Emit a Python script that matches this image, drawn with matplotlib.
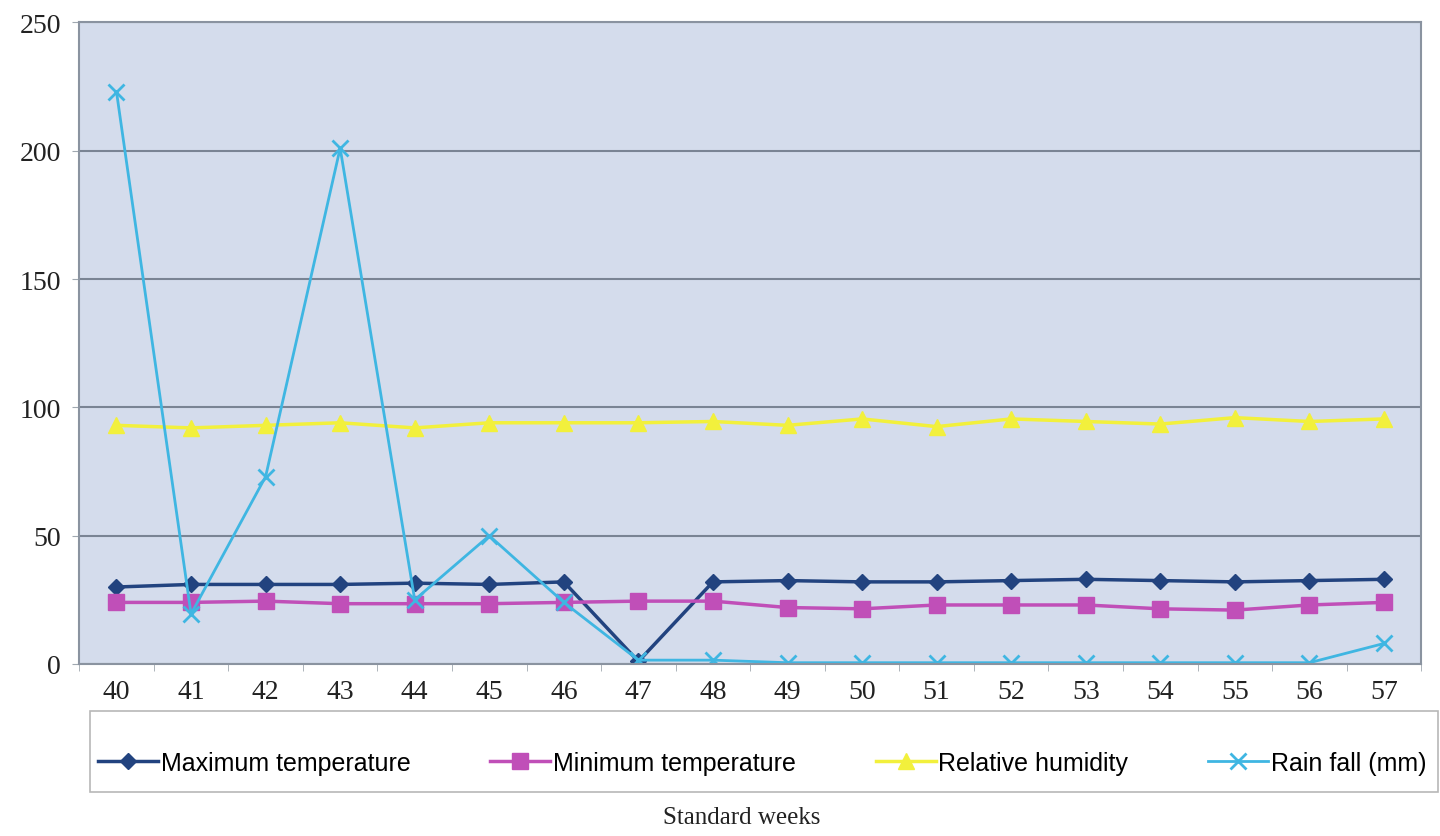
import matplotlib
matplotlib.use("Agg")
import matplotlib.pyplot as plt
from matplotlib.patches import Rectangle

weeks = ["40", "41", "42", "43", "44", "45", "46", "47", "48",
         "49", "50", "51", "52", "53", "54", "55", "56", "57"]
max_temp = [30, 31, 31, 31, 31.5, 31, 32, 1, 32,
            32.5, 32, 32, 32.5, 33, 32.5, 32, 32.5, 33]
min_temp = [24, 24, 24.5, 23.5, 23.5, 23.5, 24, 24.5, 24.5,
            22, 21.5, 23, 23, 23, 21.5, 21, 23, 24]
rel_hum = [93, 92, 93, 94, 92, 94, 94, 94, 94.5,
           93, 95.5, 92.5, 95.5, 94.5, 93.5, 96, 94.5, 95.5]
rain = [223, 19.5, 73, 201, 25, 50, 24, 1.5, 1.5,
        0.5, 0.5, 0.5, 0.5, 0.5, 0.5, 0.5, 0.5, 8]

fig = plt.figure(figsize=(14.4, 8.37), dpi=100)
ax = fig.add_axes([0.055, 0.2055, 0.932, 0.7665])
ax.set_facecolor("#d4dcec")

x = range(len(weeks))
ax.plot(x, max_temp, color="#22437f", marker="D", ms=8, lw=2.5, label="Maximum temperature")
ax.plot(x, min_temp, color="#c04fb8", marker="s", ms=11, lw=2.5, label="Minimum temperature")
ax.plot(x, rel_hum, color="#f2f03c", marker="^", ms=11, lw=2.5, label="Relative humidity")
ax.plot(x, rain, color="#3fb6e2", marker="x", ms=11, mew=2, lw=2, label="Rain fall (mm)")

ax.set_xlim(-0.5, len(weeks) - 0.5)
ax.set_ylim(0, 250)
ax.set_yticks([0, 50, 100, 150, 200, 250])
ax.set_xticks(list(x))
ax.set_xticklabels(weeks)
ax.set_xticks([i - 0.5 for i in range(len(weeks) + 1)], minor=True)
ax.tick_params(axis="x", which="major", length=0, pad=11)
ax.tick_params(axis="x", which="minor", length=5, color="#a0a8b0")
ax.tick_params(axis="y", length=5, color="#a0a8b0", pad=8)
for lab in ax.get_xticklabels() + ax.get_yticklabels():
    lab.set_family("Liberation Serif")
    lab.set_fontsize(20)
    lab.set_color("#222222")
ax.yaxis.grid(True, color="#7a8494", lw=1.5)
ax.set_axisbelow(True)
for s in ax.spines.values():
    s.set_color("#8a93a0")
    s.set_linewidth(1.5)

# legend box drawn separately so it can be taller than the text
fig.patches.append(Rectangle((0.0625, 0.0525), 0.936, 0.097, transform=fig.transFigure,
                             facecolor="white", edgecolor="#b8b8b8", lw=1.2))
leg = fig.legend(loc="center left", bbox_to_anchor=(0.063, 0.087),
                 ncol=4, frameon=False,
                 prop={"family": "Liberation Sans", "size": 18},
                 handlelength=2.4, handletextpad=0.1, columnspacing=3.2,
                 borderpad=0.3, borderaxespad=0)

fig.text(0.515, 0.0227, "Standard weeks", ha="center", va="center",
         family="Liberation Serif", fontsize=18, color="#222222")

fig.savefig("out.png", dpi=100)
